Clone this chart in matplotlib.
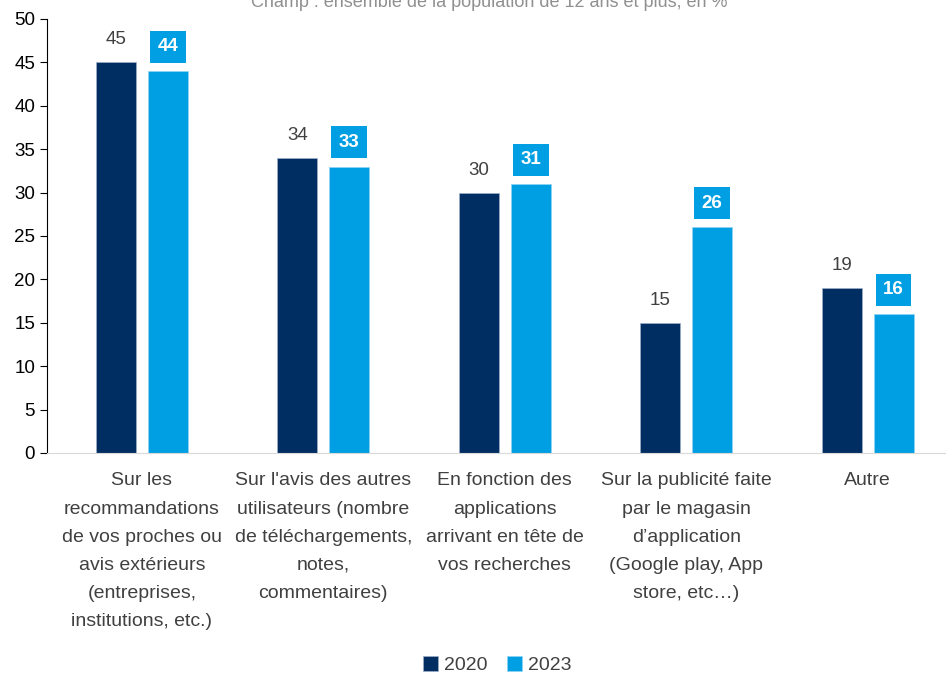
import numpy as np
import matplotlib.pyplot as plt

plt.rcParams['font.family'] = ['Liberation Sans', 'DejaVu Sans']

categories = ["Sur les\nrecommandations\nde vos proches ou\navis extérieurs\n(entreprises,\ninstitutions, etc.)",
              "Sur l'avis des autres\nutilisateurs (nombre\nde téléchargements,\nnotes,\ncommentaires)",
              "En fonction des\napplications\narrivant en tête de\nvos recherches",
              "Sur la publicité faite\npar le magasin\nd\u2019application\n(Google play, App\nstore, etc\u2026)",
              "Autre"]
v2020 = [45, 34, 30, 15, 19]
v2023 = [44, 33, 31, 26, 16]

c2020 = '#002D62'
c2023 = '#009FE3'

fig = plt.figure(figsize=(9.47, 6.77), dpi=100)
ax = fig.add_axes([0.0496, 0.331, 0.948, 0.641])

x = np.arange(len(categories))
w = 0.22
off = 0.143
ax.bar(x - off, v2020, w, color=c2020, label='2020', edgecolor='#9fb0c8', linewidth=0.5)
ax.bar(x + off, v2023, w, color=c2023, label='2023', edgecolor='#8fd3f3', linewidth=0.5)

for xi, v in zip(x, v2020):
    ax.text(xi - off, v + 1.6, str(v), ha='center', va='bottom', fontsize=13.5, color='#404040')
for xi, v in zip(x, v2023):
    ax.text(xi + off, v + 1.8, str(v), ha='center', va='bottom', fontsize=13.5, color='white',
            fontweight='bold',
            bbox=dict(boxstyle='square,pad=0.4', facecolor=c2023, edgecolor='none'))

ax.set_xlim(-0.523, 4.425)
ax.set_ylim(0, 50)
ax.set_yticks(range(0, 51, 5))
ax.tick_params(axis='y', direction='out', length=5, labelsize=13.5, labelcolor='#000000')
ax.set_xticks(x)
ax.set_xticklabels(categories, fontsize=14, color='#404040', linespacing=1.86)
ax.tick_params(axis='x', length=0, pad=14)
for s in ['top', 'right']:
    ax.spines[s].set_visible(False)
ax.spines['bottom'].set_color('#d9d9d9')
ax.spines['left'].set_color('#000000')

fig.text(0.517, 0.996, "Champ : ensemble de la population de 12 ans et plus, en %",
         ha='center', va='center', fontsize=13, color='#909090')

fig.legend(loc='lower center', bbox_to_anchor=(0.525, -0.022), ncol=2, frameon=False,
           fontsize=14, handlelength=0.8, handleheight=0.8, handletextpad=0.3,
           columnspacing=1.0, labelcolor='#404040')

fig.savefig('out.png', dpi=100)
